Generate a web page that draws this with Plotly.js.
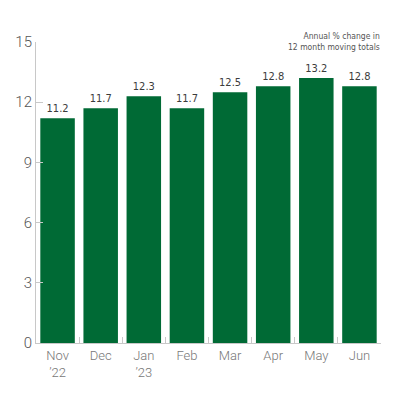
<!DOCTYPE html>
<html>
<head>
<meta charset="utf-8">
<script src="https://cdn.plot.ly/plotly-3.0.1.min.js"></script>
<style>
  html, body { margin: 0; padding: 0; background: #fff; }
  #chart { width: 400px; height: 400px; }
</style>
</head>
<body>
<div id="chart"></div>
<script>
// months shown along the bottom
var months = ['Nov<br>\u201922', 'Dec', 'Jan<br>\u201923', 'Feb', 'Mar', 'Apr', 'May', 'Jun'];
// annual % change in 12 month moving totals
var changes = [11.2, 11.7, 12.3, 11.7, 12.5, 12.8, 13.2, 12.8];
var yTicks = [0, 3, 6, 9, 12, 15];

var trace = {
  type: 'bar',
  x: months,
  y: changes,
  marker: { color: '#006a35' },
  text: changes.map(function (v) { return v.toFixed(1) }),
  textposition: 'outside',
  cliponaxis: false,
  textfont: { family: 'DejaVu Sans Condensed', size: 11, color: '#3c3c3c' },
  hoverinfo: 'none'
};

var layout = {
  width: 400,
  height: 400,
  margin: { l: 36, r: 19, t: 42, b: 57 },
  paper_bgcolor: '#fff',
  plot_bgcolor: '#fff',
  bargap: 0.2,
  showlegend: false,
  xaxis: {
    type: 'category',
    range: [-0.5, 7.5],
    showline: true,
    linecolor: '#c8c8c8',
    linewidth: 1,
    ticks: 'inside',
    tickson: 'boundaries',
    ticklen: 6,
    tickcolor: '#c8c8c8',
    showgrid: false,
    tickfont: { family: 'Roboto', weight: 300, size: 13, color: '#777' }
  },
  yaxis: {
    range: [0, 15],
    tickvals: yTicks,
    ticktext: yTicks.map(String),
    showline: true,
    linecolor: '#c8c8c8',
    linewidth: 1,
    ticks: 'inside',
    ticklen: 7,
    tickcolor: '#c8c8c8',
    showgrid: false,
    zeroline: false,
    ticklabelstandoff: 0,
    tickfont: { family: 'Roboto', weight: 300, size: 15, color: '#555' }
  },
  annotations: [{
    xref: 'paper', yref: 'paper',
    x: 1.003, y: 1.043,
    xanchor: 'right', yanchor: 'top',
    align: 'right',
    showarrow: false,
    text: 'Annual % change in<br>12 month moving totals',
    font: { family: 'DejaVu Sans Condensed', size: 8.5, color: '#555' }
  }]
};

Plotly.newPlot('chart', [trace], layout, { displayModeBar: false, staticPlot: true });
</script>
</body>
</html>
